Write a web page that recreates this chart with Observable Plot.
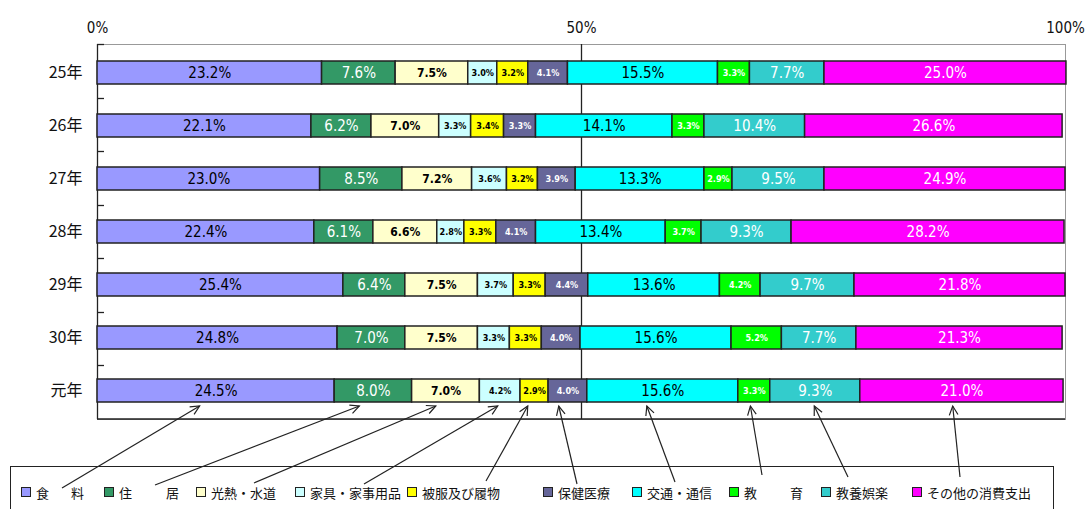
<!DOCTYPE html>
<html><head><meta charset="utf-8">
<script src="https://cdn.jsdelivr.net/npm/d3@7"></script>
<script src="https://cdn.jsdelivr.net/npm/@observablehq/plot@0.6"></script>
<style>
body{margin:0;background:#fff;}
svg{display:block}
</style>
</head><body><div id="chart"></div>
<script>
// ---- data ----
const years = ["25年","26年","27年","28年","29年","30年","元年"];
const categories = ["食　料","住　居","光熱・水道","家具・家事用品","被服及び履物","保健医療","交通・通信","教　育","教養娯楽","その他の消費支出"];
const colors = ["#9999FF","#339966","#FFFFCC","#CCFFFF","#FFFF00","#666699","#00FFFF","#00FF00","#33CCCC","#FF00FF"];
const whiteText = [false,true,false,false,false,true,false,true,true,true];
// label style per category: "L" large thin, "M" medium bold, "S" small bold
const labelStyle = ["L","L","M","S","S","S","L","S","L","L"];
const v25 = [23.2,7.6,7.5,3.0,3.2,4.1,15.5,3.3,7.7,25.0];
const v26 = [22.1,6.2,7.0,3.3,3.4,3.3,14.1,3.3,10.4,26.6];
const v27 = [23.0,8.5,7.2,3.6,3.2,3.9,13.3,2.9,9.5,24.9];
const v28 = [22.4,6.1,6.6,2.8,3.3,4.1,13.4,3.7,9.3,28.2];
const v29 = [25.4,6.4,7.5,3.7,3.3,4.4,13.6,4.2,9.7,21.8];
const v30 = [24.8,7.0,7.5,3.3,3.3,4.0,15.6,5.2,7.7,21.3];
const v01 = [24.5,8.0,7.0,4.2,2.9,4.0,15.6,3.3,9.3,21.0];
const xTicks = [0,50,100];
const xTickLabels = ["0%","50%","100%"];
// where each legend arrow points, in % along the 元年 bar
const arrowTipPct = [10.6,27.1,35.0,41.4,44.5,47.7,56.8,67.5,74.1,88.4];

const series = [v25,v26,v27,v28,v29,v30,v01];
const rows = [];
years.forEach((yr,i)=>categories.forEach((c,j)=>rows.push({year:yr,cat:c,idx:j,value:series[i][j]})));
const fmt = d => d.value.toFixed(1) + "%";
const numFont = "'Liberation Sans Narrow','DejaVu Sans Condensed','Arial Narrow',sans-serif";
const jpFont = "'Noto Sans CJK JP','Noto Sans',sans-serif";

const stk = (o) => Plot.stackX({x:"value", y:"year", z:"cat", ...o});
const lab = (style, white, extra) => Plot.text(rows, stk({
  text: d => labelStyle[d.idx] === style && whiteText[d.idx] === white ? fmt(d) : "",
  fill: white ? "#fff" : "#000", fontFamily: numFont, ...extra}));

const plot = Plot.plot({
  width:1088, height:509,
  marginTop:44, marginBottom:90, marginLeft:97, marginRight:23,
  style:{background:"white", fontFamily:jpFont},
  x:{domain:[0,100]},
  y:{domain:years, paddingInner:0.57, paddingOuter:0.285},
  color:{domain:categories, range:colors},
  marks:[
    Plot.frame({stroke:"#999", strokeWidth:1}),
    Plot.ruleX([0,50], {stroke:"#222", strokeWidth:1.3}),
    Plot.barX(rows, stk({fill:"cat", stroke:"#222", strokeWidth:1.5})),
    lab("L", false, {fontSize:15}),
    lab("L", true, {fontSize:15}),
    lab("M", false, {fontSize:12, fontWeight:"bold"}),
    lab("S", false, {fontSize:9, fontWeight:"bold"}),
    lab("S", true, {fontSize:9, fontWeight:"bold"}),
    Plot.axisX({anchor:"top", ticks:xTicks, tickSize:0, tickPadding:12, tickFormat:(d)=>xTickLabels[xTicks.indexOf(d)], label:null, fontSize:15, fontFamily:numFont, fill:"#111"}),
    Plot.axisY({anchor:"left", tickSize:0, tickPadding:15, label:null, fontSize:16, fontFamily:jpFont, fill:"#111"})
  ]
});
document.getElementById("chart").appendChild(plot);

// ---- extras drawn with the plot's own scales ----
const svg = d3.select(plot);
const xs = plot.scale("x"), ys = plot.scale("y");
const [x0, x1] = xs.range;
const [y0, y1] = ys.range;
const step = (y1 - y0) / years.length;
// bottom axis line (dark)
svg.append("line").attr("x1",x0).attr("x2",x1).attr("y1",y1).attr("y2",y1).attr("stroke","#222").attr("stroke-width",1.5);
// band-boundary ticks on left axis
for (let i = 0; i < years.length; i++) {
  const yy = Math.round(y0 + i*step) + 0.5;
  svg.append("line").attr("x1",x0).attr("x2",x0+7).attr("y1",yy).attr("y2",yy).attr("stroke","#222").attr("stroke-width",1.3);
}

// legend
const legendItemX = [21,104,196,295,407,543,632,729,821,912];
const legendTextLen = [48,60,null,null,null,null,null,59,null,null];
const legendTop = 466.5, legendTextY = 493;
svg.append("rect").attr("x",10.5).attr("y",legendTop).attr("width",1043).attr("height",60)
  .attr("fill","white").attr("stroke","#222").attr("stroke-width",1);

// arrows from legend labels to bar segments
const arrowTail = [[62,488],[155,485],[254,483],[364,484],[486,481],[577,484],[675,482],[762,475],[848,477],[960,477]];
const headY = y1 - 13;
const ag = svg.append("g").attr("stroke","#222").attr("stroke-width",1.2).attr("fill","none");
arrowTipPct.forEach((p,i)=>{
  const hx = xs.apply(p), hy = headY;
  const [tx, ty] = arrowTail[i];
  ag.append("line").attr("x1",tx).attr("y1",ty).attr("x2",hx).attr("y2",hy);
  const ang = Math.atan2(hy-ty, hx-tx);
  const L = 10, a = 0.45;
  const p1 = [hx - L*Math.cos(ang - a), hy - L*Math.sin(ang - a)];
  const p2 = [hx - L*Math.cos(ang + a), hy - L*Math.sin(ang + a)];
  ag.append("path").attr("d",`M${p1[0]},${p1[1]}L${hx},${hy}L${p2[0]},${p2[1]}`);
});

const lg = svg.append("g").attr("text-anchor","start");
categories.forEach((c,i)=>{
  const lx = legendItemX[i];
  lg.append("rect").attr("x",lx+0.5).attr("y",legendTextY-5.5).attr("width",9).attr("height",9)
    .attr("fill",colors[i]).attr("stroke","#222").attr("stroke-width",1);
  const t = lg.append("text").attr("x",lx+15).attr("y",legendTextY).attr("dy","0.35em")
    .attr("text-anchor","start")
    .attr("font-size",13).attr("font-family",jpFont).attr("fill","#111").text(c);
  if (legendTextLen[i]) t.attr("textLength",legendTextLen[i]).attr("lengthAdjust","spacing");
});
</script>
</body></html>
